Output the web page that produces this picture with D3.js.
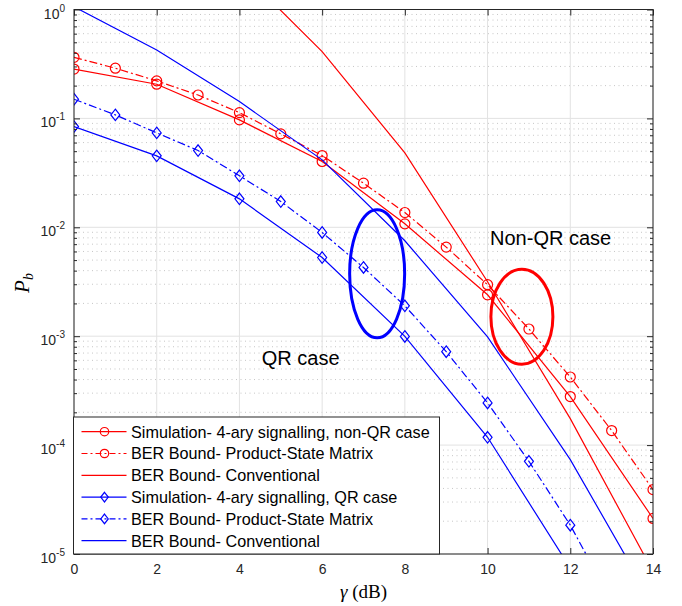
<!DOCTYPE html>
<html>
<head>
<meta charset="utf-8">
<script src="https://cdn.jsdelivr.net/npm/d3@7"></script>
<style>
  body { margin: 0; background: #fff; }
  svg { display: block; }
  .tick text { font-family: "Liberation Sans", Arial, sans-serif; fill: #262626; }
</style>
</head>
<body>
<div class="chart"></div>
<script>
// x values (gamma, dB)
var xAll = [0, 1, 2, 3, 4, 5, 6, 7, 8, 9, 10, 11, 12, 13, 14];
var xEven = [0, 2, 4, 6, 8, 10, 12, 14];

// non-QR case (red)
var redSim = [0.284, 0.206, 0.0969, 0.0402, 0.01076, 0.0024, 2.79e-4, 2.12e-5];
var redPSM = [0.364, 0.289, 0.221, 0.164, 0.113, 0.0721, 0.0456, 0.0254, 0.01367,
              0.00658, 0.00297, 0.001164, 4.22e-4, 1.36e-4, 3.9e-5];
var redConvX = [4, 6, 8, 10, 12, 14];
var redConv = [2.34, 0.41, 0.0482, 0.00316, 1.75e-4, 6.9e-6];

// QR case (blue)
var blueSimX = [0, 2, 4, 6, 8, 10, 12];
var blueSim = [0.0841, 0.0453, 0.01825, 0.00528, 0.000995, 1.18e-4, 7.43e-6];
var bluePSMX = [0, 1, 2, 3, 4, 5, 6, 7, 8, 9, 10, 11, 12, 13];
var bluePSM = [0.15, 0.1077, 0.0736, 0.0507, 0.0297, 0.01725, 0.00896, 0.00428, 0.0019,
               0.000721, 2.44e-4, 7.1e-5, 1.84e-5, 3.67e-6];
var blueConv = [1.06, 0.425, 0.1426, 0.0416, 0.00752, 0.000984, 7.36e-5, 3.48e-6];

var xTicks = [0, 2, 4, 6, 8, 10, 12, 14];
var yTicks = [1e-5, 1e-4, 1e-3, 1e-2, 1e-1, 1];
var yExp = ["-5", "-4", "-3", "-2", "-1", "0"];

var legendLabels = [
  "Simulation- 4-ary signalling, non-QR case",
  "BER Bound- Product-State Matrix",
  "BER Bound- Conventional",
  "Simulation- 4-ary signalling, QR case",
  "BER Bound- Product-State Matrix",
  "BER Bound- Conventional"
];

var svgWidth = 682, svgHeight = 606;
var margin = { top: 9.5, right: 29, bottom: 52, left: 74 };
var width = svgWidth - margin.left - margin.right;
var height = svgHeight - margin.top - margin.bottom;

var svg = d3.select(".chart").append("svg")
  .attr("width", svgWidth)
  .attr("height", svgHeight);

var chartGroup = svg.append("g")
  .attr("transform", `translate(${margin.left}, ${margin.top})`);

var xScale = d3.scaleLinear().domain([0, 14]).range([0, width]);
var yScale = d3.scaleLog().domain([1e-5, 1]).range([height, 0]);

svg.append("defs").append("clipPath").attr("id", "plotclip")
  .append("rect").attr("width", width).attr("height", height);

// minor y values
var yMinor = [];
for (var e = -5; e < 0; e++) {
  for (var m = 2; m <= 9; m++) yMinor.push(m * Math.pow(10, e));
}

// grid
var grid = chartGroup.append("g");
grid.selectAll(".minor").data(yMinor).enter().append("line")
  .attr("x1", 0).attr("x2", width)
  .attr("y1", d => yScale(d)).attr("y2", d => yScale(d))
  .attr("stroke", "#b8b8b8").attr("stroke-width", 0.8)
  .attr("stroke-dasharray", "1,3.5");
grid.selectAll(".ymaj").data(yTicks).enter().append("line")
  .attr("x1", 0).attr("x2", width)
  .attr("y1", d => yScale(d)).attr("y2", d => yScale(d))
  .attr("stroke", "#e2e2e2").attr("stroke-width", 1);
grid.selectAll(".xmaj").data(xTicks).enter().append("line")
  .attr("y1", 0).attr("y2", height)
  .attr("x1", d => xScale(d)).attr("x2", d => xScale(d))
  .attr("stroke", "#e2e2e2").attr("stroke-width", 1);

// data
var plot = chartGroup.append("g").attr("clip-path", "url(#plotclip)");
var line = d3.line().x(d => xScale(d[0])).y(d => yScale(d[1]));
var zip = (xs, ys) => xs.map((x, i) => [x, ys[i]]);

var series = [
  { pts: zip(xEven, redSim), color: "red", dash: null, marker: "o" },
  { pts: zip(xAll, redPSM), color: "red", dash: "8,3,2,3", marker: "o" },
  { pts: zip(redConvX, redConv), color: "red", dash: null, marker: null },
  { pts: zip(blueSimX, blueSim), color: "blue", dash: null, marker: "d" },
  { pts: zip(bluePSMX, bluePSM), color: "blue", dash: "8,3,2,3", marker: "d" },
  { pts: zip(xEven, blueConv), color: "blue", dash: null, marker: null }
];

function drawMarker(g, type, cx, cy, color, size) {
  if (type === "o") {
    g.append("circle").attr("cx", cx).attr("cy", cy).attr("r", size)
      .attr("fill", "none").attr("stroke", color).attr("stroke-width", 1.2);
  } else if (type === "d") {
    var w = size * 0.9, h = size * 1.15;
    g.append("path")
      .attr("d", `M${cx},${cy - h}L${cx + w},${cy}L${cx},${cy + h}L${cx - w},${cy}Z`)
      .attr("fill", "none").attr("stroke", color).attr("stroke-width", 1.2);
  }
}

series.forEach(function(s) {
  plot.append("path").datum(s.pts)
    .attr("d", line)
    .attr("fill", "none")
    .attr("stroke", s.color)
    .attr("stroke-width", 1.2)
    .attr("stroke-dasharray", s.dash);
  if (s.marker) {
    s.pts.forEach(function(p) {
      drawMarker(plot, s.marker, xScale(p[0]), yScale(p[1]), s.color, 5);
    });
  }
});

// ellipses
chartGroup.append("ellipse")
  .attr("cx", xScale(7.33)).attr("cy", yScale(0.00374))
  .attr("rx", 27.5).attr("ry", 64)
  .attr("fill", "none").attr("stroke", "blue").attr("stroke-width", 3);
chartGroup.append("ellipse")
  .attr("cx", xScale(10.83)).attr("cy", yScale(0.00151))
  .attr("rx", 31).attr("ry", 47.5)
  .attr("fill", "none").attr("stroke", "red").attr("stroke-width", 3);

chartGroup.append("text")
  .attr("x", xScale(10.06)).attr("y", yScale(0.00687))
  .attr("font-family", "Liberation Sans, Arial, sans-serif")
  .attr("font-size", "20px").attr("fill", "#000")
  .text("Non-QR case");
chartGroup.append("text")
  .attr("x", xScale(4.54)).attr("y", yScale(0.000545))
  .attr("font-family", "Liberation Sans, Arial, sans-serif")
  .attr("font-size", "20px").attr("fill", "#000")
  .text("QR case");

// axes
var axisColor = "#262626";
function styleAxis(g) {
  g.select(".domain").remove();
  g.selectAll(".tick line").attr("stroke", axisColor);
}

var bottomAxis = d3.axisBottom(xScale).tickValues(xTicks).tickSizeInner(-6).tickPadding(10);
chartGroup.append("g").attr("transform", `translate(0, ${height})`)
  .call(bottomAxis).call(styleAxis)
  .selectAll("text").attr("font-size", "14px");

chartGroup.append("g").call(d3.axisTop(xScale).tickValues(xTicks).tickSizeInner(-6).tickFormat(""))
  .call(styleAxis);

var leftAxis = d3.axisLeft(yScale).tickValues(yTicks).tickSizeInner(-6).tickFormat("");
chartGroup.append("g").call(leftAxis).call(styleAxis);
chartGroup.append("g").call(d3.axisLeft(yScale).tickValues(yMinor).tickSizeInner(-3).tickFormat(""))
  .call(styleAxis);
chartGroup.append("g").attr("transform", `translate(${width}, 0)`)
  .call(d3.axisRight(yScale).tickValues(yTicks).tickSizeInner(-6).tickFormat(""))
  .call(styleAxis);
chartGroup.append("g").attr("transform", `translate(${width}, 0)`)
  .call(d3.axisRight(yScale).tickValues(yMinor).tickSizeInner(-3).tickFormat(""))
  .call(styleAxis);

// y tick labels 10^n
var yLab = chartGroup.append("g");
yTicks.forEach(function(t, i) {
  var txt = yLab.append("text")
    .attr("x", -9).attr("y", yScale(t) + 9)
    .attr("text-anchor", "end")
    .attr("font-family", "Liberation Sans, Arial, sans-serif")
    .attr("fill", axisColor);
  txt.append("tspan").attr("font-size", "14px").text("10");
  txt.append("tspan").attr("font-size", "10px").attr("dy", -7).text(yExp[i]);
});

// box
chartGroup.append("rect")
  .attr("width", width).attr("height", height)
  .attr("fill", "none").attr("stroke", axisColor).attr("stroke-width", 1);

// axis labels
svg.append("text")
  .attr("x", margin.left + width / 2).attr("y", 598)
  .attr("text-anchor", "middle")
  .attr("font-family", "Liberation Serif, Times New Roman, serif")
  .attr("font-size", "19px")
  .html('<tspan font-style="italic">γ</tspan> (dB)');

var yl = svg.append("text")
  .attr("transform", "translate(29, 283) rotate(-90)")
  .attr("text-anchor", "middle")
  .attr("font-family", "Liberation Serif, Times New Roman, serif")
  .attr("font-style", "italic")
  .attr("font-size", "21px");
yl.append("tspan").text("P");
yl.append("tspan").attr("font-size", "14px").attr("dy", 4).text("b");

// legend
var leg = chartGroup.append("g").attr("transform", `translate(-0.5, ${417 - margin.top})`);
leg.append("rect")
  .attr("width", 366).attr("height", 137)
  .attr("fill", "#fff").attr("stroke", axisColor).attr("stroke-width", 1);
series.forEach(function(s, i) {
  var yy = 14.7 + i * 21.8;
  leg.append("line")
    .attr("x1", 8).attr("x2", 53).attr("y1", yy).attr("y2", yy)
    .attr("stroke", s.color).attr("stroke-width", 1.2)
    .attr("stroke-dasharray", s.dash ? "6,3,2,3" : null);
  if (s.marker) drawMarker(leg, s.marker, 31, yy, s.color, 4.2);
  leg.append("text")
    .attr("x", 57.5).attr("y", yy + 5.8)
    .attr("font-family", "Liberation Sans, Arial, sans-serif")
    .attr("font-size", "16.2px").attr("fill", "#000")
    .text(legendLabels[i]);
});
</script>
</body>
</html>
